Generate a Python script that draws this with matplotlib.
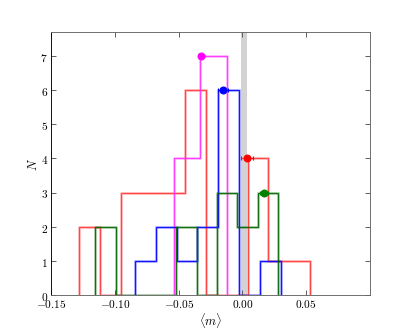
import matplotlib
matplotlib.use("Agg")
import matplotlib.pyplot as plt
import numpy as np

plt.rcParams['mathtext.fontset'] = 'cm'
plt.rcParams['font.family'] = 'serif'
plt.rcParams['font.serif'] = ['DejaVu Serif']

# Histogram data (bin edges, counts) per series
red_edges = [-0.128, -0.1115, -0.095, -0.0785, -0.062, -0.0455, -0.029, -0.0125, 0.004, 0.0203, 0.0368, 0.0528]
red_counts = [2, 0, 3, 3, 3, 6, 0, 0, 4, 1, 1]

magenta_edges = [-0.054, -0.0331, -0.0125]
magenta_counts = [4, 7]

blue_edges = [-0.0844, -0.068, -0.0517, -0.0354, -0.019, -0.0027, 0.0137, 0.030]
blue_counts = [1, 2, 1, 2, 6, 0, 1]

green_edges = [-0.1154, -0.0995, -0.0836, -0.0677, -0.0518, -0.0359, -0.0198, -0.0043, 0.0118, 0.0277]
green_counts = [2, 0, 0, 0, 2, 0, 3, 2, 3]

# Mean markers (x, height, xerr)
mean_x = [0.0035, -0.0325, -0.0150, 0.0170]
mean_y = [4, 7, 6, 3]
mean_err = [0.005, 0.002, 0.004, 0.003]

band = (-0.001, 0.0033)

xticks = [-0.15, -0.10, -0.05, 0.00, 0.05]
xticklabels = [r'$-0.15$', r'$-0.10$', r'$-0.05$', r'$0.00$', r'$0.05$']
yticks = [0, 1, 2, 3, 4, 5, 6, 7]

fig = plt.figure(figsize=(5, 4), dpi=82.2)
ax = fig.add_axes([0.125, 0.1, 0.775, 0.8])

ax.axvspan(band[0], band[1], color='#d3d3d3', zorder=0, lw=0)

hist_data = [
    (red_edges, red_counts, '#ff3030', 0.85),
    (magenta_edges, magenta_counts, '#ff30ff', 0.9),
    (blue_edges, blue_counts, '#0000ff', 0.9),
    (green_edges, green_counts, '#006400', 0.9),
]
for edges, counts, c, a in hist_data:
    ax.stairs(counts, edges, baseline=0, color=c, lw=2.6, alpha=0.2, zorder=2)
    ax.stairs(counts, edges, baseline=0, color=c, lw=1.2, alpha=a, zorder=3)

dot_colors = ['red', 'magenta', 'blue', 'green']
for x, y, e, c in zip(mean_x, mean_y, mean_err, dot_colors):
    ax.errorbar([x], [y], xerr=[e], fmt='o', color=c, ms=6, mec=c,
                ecolor=c, elinewidth=0.6, capsize=2, alpha=1, zorder=5)

ax.set_xlim(-0.15, 0.10)
ax.set_ylim(0, 7.7)
ax.set_xticks(xticks)
ax.set_xticklabels(xticklabels)
ax.set_yticks(yticks)
ax.set_yticklabels([r'$%d$' % v for v in yticks])
ax.tick_params(direction='in', top=True, right=True, labelsize=10, length=4, color='#555555')
ax.tick_params(axis='x', pad=2)
ax.tick_params(axis='y', pad=3)
for s in ['top', 'right', 'bottom']:
    ax.spines[s].set_color('#666666')
ax.spines['left'].set_color('black')

ax.set_xlabel(r'$\langle m \rangle$', fontsize=11, labelpad=1)
ax.set_ylabel(r'$N$', fontsize=11, labelpad=0)

fig.savefig('out.png', dpi=82.2)
